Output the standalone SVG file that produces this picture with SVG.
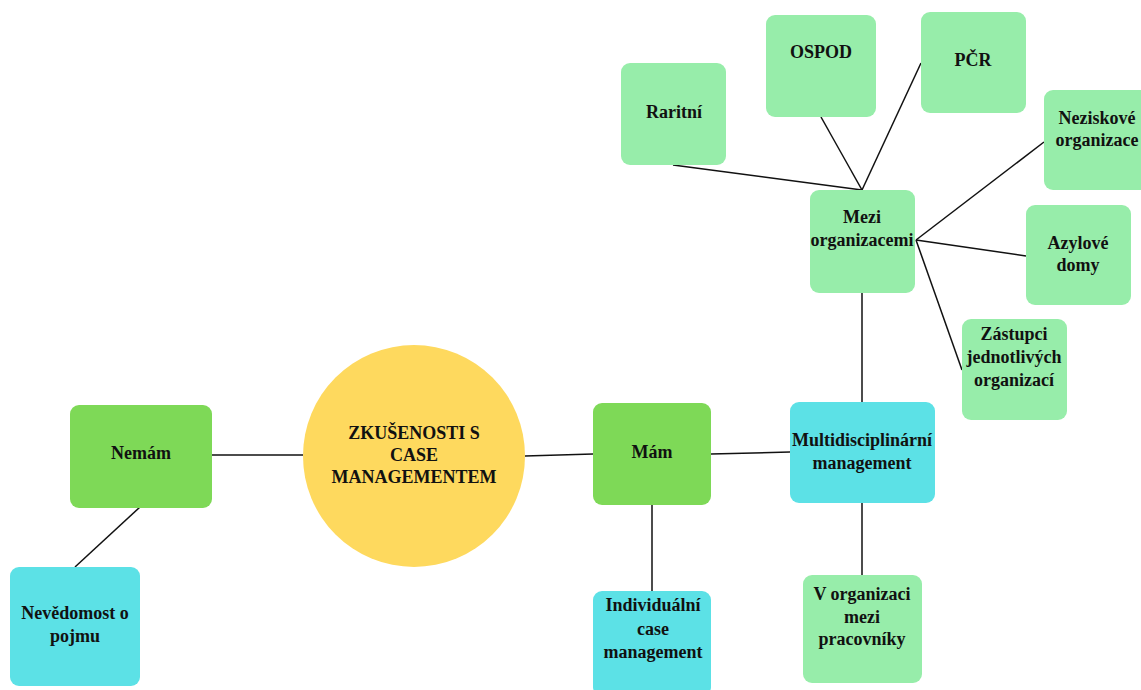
<svg xmlns="http://www.w3.org/2000/svg" width="1141" height="690" viewBox="0 0 1141 690">
<style>
.t{font-family:"Liberation Serif","Times New Roman",serif;font-weight:bold;font-size:18px;fill:#111;text-anchor:middle}
.dg{fill:#7ED957}
.lg{fill:#97EDAA}
.cy{fill:#5CE1E6}
.ln{stroke:#111;stroke-width:1.5;fill:none}
</style>
<rect width="1141" height="690" fill="#fff"/>
<g id="connectors" class="ln">
<line x1="212" y1="455" x2="303" y2="455"/>
<line x1="525" y1="456" x2="593" y2="454"/>
<line x1="711" y1="454" x2="790" y2="452"/>
<line x1="652" y1="505" x2="652" y2="591"/>
<line x1="140" y1="507" x2="75" y2="567"/>
<line x1="862" y1="293" x2="862" y2="402"/>
<line x1="862" y1="503" x2="862" y2="575"/>
<line x1="673" y1="165" x2="862" y2="190"/>
<line x1="821" y1="117" x2="862" y2="190"/>
<line x1="921" y1="63" x2="862" y2="190"/>
<line x1="916" y1="240" x2="1044" y2="142"/>
<line x1="916" y1="240" x2="1026" y2="256"/>
<line x1="916" y1="240" x2="962" y2="370"/>
</g>
<g id="center"><ellipse cx="414" cy="456" rx="111" ry="111" fill="#FED95E"/>
<text class="t" x="414" y="439">ZKUŠENOSTI S</text><text class="t" x="414" y="461">CASE</text><text class="t" x="414" y="483">MANAGEMENTEM</text></g>
<g id="nemam"><rect class="dg" x="70" y="405" width="142" height="103" rx="9"/><text class="t" x="141" y="459">Nemám</text></g>
<g id="nevedomost"><rect class="cy" x="10" y="567" width="130" height="119" rx="9"/><text class="t" x="75" y="619">Nevědomost o</text><text class="t" x="75" y="642">pojmu</text></g>
<g id="mam"><rect class="dg" x="593" y="403" width="118" height="102" rx="9"/><text class="t" x="652" y="458">Mám</text></g>
<g id="individualni"><rect class="cy" x="593" y="591" width="118" height="105" rx="9"/><text class="t" x="653" y="611">Individuální</text><text class="t" x="653" y="635">case</text><text class="t" x="653" y="658">management</text></g>
<g id="multi"><rect class="cy" x="790" y="402" width="145" height="101" rx="9"/><text class="t" x="862" y="446">Multidisciplinární</text><text class="t" x="862" y="469">management</text></g>
<g id="vorganizaci"><rect class="lg" x="803" y="575" width="119" height="108" rx="9"/><text class="t" x="862" y="600">V organizaci</text><text class="t" x="862" y="623">mezi</text><text class="t" x="862" y="645">pracovníky</text></g>
<g id="mezi"><rect class="lg" x="810" y="190" width="105" height="103" rx="9"/><text class="t" x="862" y="223">Mezi</text><text class="t" x="862" y="246">organizacemi</text></g>
<g id="raritni"><rect class="lg" x="621" y="63" width="105" height="102" rx="9"/><text class="t" x="674" y="118">Raritní</text></g>
<g id="ospod"><rect class="lg" x="766" y="15" width="110" height="102" rx="9"/><text class="t" x="821" y="58">OSPOD</text></g>
<g id="pcr"><rect class="lg" x="921" y="12" width="105" height="101" rx="9"/><text class="t" x="973" y="66">PČR</text></g>
<g id="neziskove"><rect class="lg" x="1044" y="90" width="108" height="100" rx="9"/><text class="t" x="1097" y="124">Neziskové</text><text class="t" x="1097" y="146">organizace</text></g>
<g id="azylove"><rect class="lg" x="1026" y="205" width="105" height="100" rx="9"/><text class="t" x="1078" y="249">Azylové</text><text class="t" x="1078" y="271">domy</text></g>
<g id="zastupci"><rect class="lg" x="962" y="319" width="105" height="101" rx="9"/><text class="t" x="1014" y="340">Zástupci</text><text class="t" x="1014" y="363">jednotlivých</text><text class="t" x="1014" y="386">organizací</text></g>
</svg>
